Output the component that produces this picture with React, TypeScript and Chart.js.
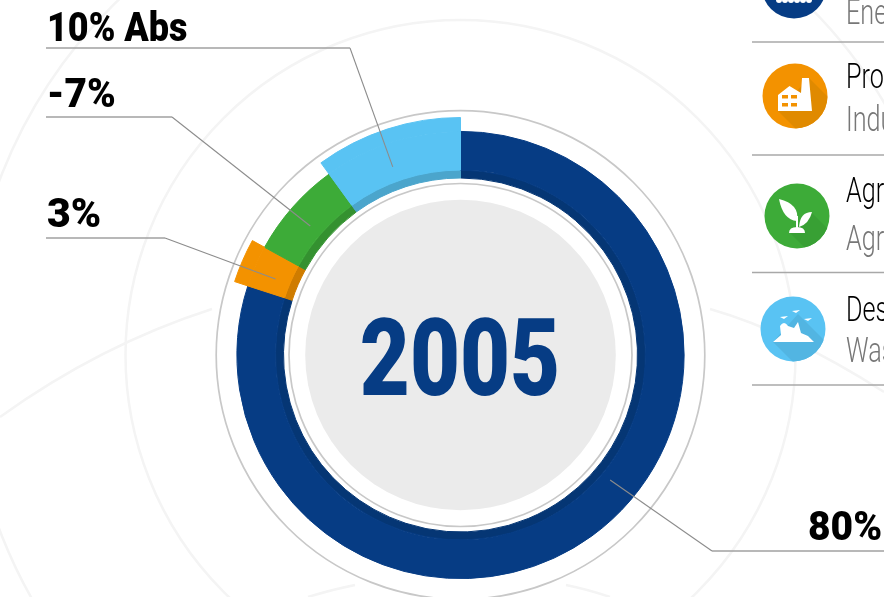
import React, { useEffect, useRef } from "react";
import { Chart, registerables } from "chart.js";

Chart.register(...registerables);

const categories = ["Ene", "Pro", "Agr", "Des"];
const shares = [80, 3, 7, 10];
const valueLabels = ["80%", "3%", "-7%", "10% Abs"];
const legendTitles = ["", "Pro", "Agr", "Des"];
const legendSubtitles = ["Ene", "Indu", "Agr", "Was"];
const centerLabel = "2005";

const mainColors = ["#063c84", "#f39200", "#3dab38", "#59c3f3"];
const darkColors = ["#053674", "#cf7c00", "#349130", "#4ba5cc"];
const tabColors = ["rgba(0,0,0,0)", "#f39200", "rgba(0,0,0,0)", "#59c3f3"];
const shadowColors = ["#05346f", "#e08a00", "#38a034", "#52b5e2"];

const FONT = "Roboto, sans-serif";
const FAINT = "#f4f4f4";

// [labelY, elbowX, endX, fractionAlongArc, anchorRadius]
const leaders: [number, number, number, number, number][] = [
  [551, 712, 884, 0.451, 195],
  [238, 165, 46, 0.4, 200],
  [117, 172, 46, 0.47, 198],
  [48, 350, 46, 0.45, 200],
];
const labelPos: [number, number][] = [
  [808, 540],
  [47, 227],
  [47, 107],
  [47, 41],
];
const labelScale = [0.95, 1.0, 0.945, 0.877];
const iconPos: [number, number][] = [
  [794, -14],
  [795, 96],
  [797, 216],
  [793, 329],
];
const separators = [42, 155, 272.5, 385];
const titleBase = [-18, 88, 202, 321];
const subBase = [24, 131, 250, 362];
const faintCurves: number[][] = [
  [212, 309, 100, 345, 0, 417],
  [710, 309, 790, 332, 884, 392],
  [308, 597, 330, 590, 355, 585],
  [566, 585, 590, 590, 610, 597],
];

function circle(ctx: CanvasRenderingContext2D, x: number, y: number, r: number) {
  ctx.beginPath();
  ctx.arc(x, y, r, 0, Math.PI * 2);
}

function narrowText(
  ctx: CanvasRenderingContext2D,
  text: string,
  x: number,
  y: number,
  font: string,
  scaleX: number,
  color: string,
  center = false
) {
  ctx.save();
  ctx.font = font;
  ctx.fillStyle = color;
  ctx.textBaseline = "alphabetic";
  ctx.textAlign = center ? "center" : "left";
  ctx.translate(x, y);
  ctx.scale(scaleX, 1);
  ctx.fillText(text, 0, 0);
  ctx.restore();
}

function poly(ctx: CanvasRenderingContext2D, pts: number[][]) {
  ctx.beginPath();
  pts.forEach(([a, b], k) => (k ? ctx.lineTo(a, b) : ctx.moveTo(a, b)));
  ctx.closePath();
  ctx.fill();
}

function drawIcon(ctx: CanvasRenderingContext2D, i: number) {
  const [x, y] = iconPos[i];
  ctx.save();
  circle(ctx, x, y, 32.5);
  ctx.fillStyle = mainColors[i];
  ctx.fill();
  ctx.clip();
  ctx.fillStyle = shadowColors[i];
  if (i === 1) {
    poly(ctx, [[x - 17, y + 15], [x + 14, y - 18], [x + 60, y + 28], [x + 30, y + 62]]);
  } else if (i === 2) {
    poly(ctx, [[x - 8, y + 16], [x + 14, y - 4], [x + 60, y + 42], [x + 36, y + 60]]);
  } else if (i === 3) {
    poly(ctx, [[x - 20, y + 13], [x + 5, y - 15], [x + 60, y + 40], [x + 27, y + 60]]);
  }
  ctx.fillStyle = "#fff";
  if (i === 0) {
    for (let k = 0; k < 6; k++) {
      circle(ctx, x - 15 + k * 6, 0, 3);
      ctx.fill();
    }
  } else if (i === 1) {
    poly(ctx, [
      [x - 17, y + 15], [x - 17, y - 1], [x - 5.5, y - 10], [x + 6, y - 3], [x + 7, y - 18],
      [x + 14, y - 18], [x + 17, y + 15],
    ]);
    ctx.fillStyle = mainColors[1];
    for (const [dx, dy] of [[-13, -1], [-4, -1], [-13, 7], [-4, 7]]) ctx.fillRect(x + dx, y + dy, 6, 3.5);
  } else if (i === 2) {
    ctx.beginPath();
    ctx.moveTo(x - 18, y - 17);
    ctx.quadraticCurveTo(x + 3, y - 12, x + 0, y + 5);
    ctx.quadraticCurveTo(x - 14, y + 4, x - 18, y - 17);
    ctx.fill();
    ctx.beginPath();
    ctx.moveTo(x + 15, y - 4);
    ctx.quadraticCurveTo(x + 3, y - 4, x + 2, y + 11);
    ctx.quadraticCurveTo(x + 12, y + 8, x + 15, y - 4);
    ctx.fill();
    ctx.beginPath();
    ctx.moveTo(x - 8, y + 17);
    ctx.quadraticCurveTo(x - 8, y + 11, x + 0, y + 11);
    ctx.quadraticCurveTo(x + 8, y + 11, x + 8, y + 17);
    ctx.closePath();
    ctx.fill();
    ctx.fillRect(x - 1, y, 2, 12);
  } else if (i === 3) {
    ctx.beginPath();
    ctx.moveTo(x - 20, y + 13);
    ctx.lineTo(x - 12, y + 6);
    ctx.lineTo(x - 13, y - 3);
    ctx.quadraticCurveTo(x - 9, y - 9, x - 5, y - 3);
    ctx.lineTo(x + 1, y - 1);
    ctx.lineTo(x + 5, y - 7);
    ctx.lineTo(x + 8, y + 4);
    ctx.lineTo(x + 15, y + 7);
    ctx.lineTo(x + 21, y + 13);
    ctx.closePath();
    ctx.fill();
    for (const [dx, dy] of [[-9, -12], [3, -18], [15, -10]]) {
      poly(ctx, [[x + dx - 4, y + dy], [x + dx + 4, y + dy - 1], [x + dx, y + dy + 2]]);
    }
  }
  ctx.restore();
}

const decorations = {
  id: "decorations",
  beforeDatasetsDraw(chart: any) {
    const ctx: CanvasRenderingContext2D = chart.ctx;
    const arc = chart.getDatasetMeta(0).data[0];
    const { x, y } = arc;
    ctx.save();
    ctx.strokeStyle = FAINT;
    ctx.lineWidth = 2.5;
    for (const r of [335, 493]) {
      circle(ctx, x, y, r);
      ctx.stroke();
    }
    for (const c of faintCurves) {
      ctx.beginPath();
      ctx.moveTo(c[0], c[1]);
      ctx.quadraticCurveTo(c[2], c[3], c[4], c[5]);
      ctx.stroke();
    }
    ctx.strokeStyle = "#c8c8c8";
    ctx.lineWidth = 1.7;
    circle(ctx, x, y, 244.3);
    ctx.stroke();
    circle(ctx, x, y, 171.5);
    ctx.stroke();
    ctx.fillStyle = "#ebebeb";
    circle(ctx, x, y, 155.3);
    ctx.fill();

    ctx.strokeStyle = "#a8a8a8";
    ctx.lineWidth = 1.5;
    for (const s of separators) {
      ctx.beginPath();
      ctx.moveTo(752, s);
      ctx.lineTo(884, s);
      ctx.stroke();
    }
    categories.forEach((_, i) => drawIcon(ctx, i));
    categories.forEach((_, i) => {
      const font = `300 35px ${FONT}`;
      if (legendTitles[i]) narrowText(ctx, legendTitles[i], 846, titleBase[i], font, 0.72, "#000");
      narrowText(ctx, legendSubtitles[i], 846, subBase[i], font, 0.72, "#777");
    });
    ctx.restore();
  },
  afterDatasetsDraw(chart: any) {
    const ctx: CanvasRenderingContext2D = chart.ctx;
    const elements = chart.getDatasetMeta(1).data;
    ctx.save();
    leaders.forEach(([ly, ex, endX, frac, r], i) => {
      const el = elements[i];
      const a = el.startAngle + frac * (el.endAngle - el.startAngle);
      const ax = el.x + r * Math.cos(a);
      const ay = el.y + r * Math.sin(a);
      ctx.strokeStyle = "#8c8c8c";
      ctx.lineWidth = 1.1;
      ctx.beginPath();
      ctx.moveTo(ax, ay);
      ctx.lineTo(ex, ly);
      ctx.stroke();
      ctx.strokeStyle = "#a0a0a0";
      ctx.lineWidth = 1.5;
      ctx.beginPath();
      ctx.moveTo(ex, ly);
      ctx.lineTo(endX, ly);
      ctx.stroke();
      const [tx, ty] = labelPos[i];
      narrowText(ctx, valueLabels[i], tx, ty, `900 41px ${FONT}`, labelScale[i], "#000");
    });
    const c = elements[0];
    narrowText(ctx, centerLabel, c.x - 0.5, 395, `900 108px ${FONT}`, 0.8, "#063c84", true);
    ctx.restore();
  },
};

export default function App() {
  const ref = useRef<HTMLCanvasElement>(null);
  useEffect(() => {
    const chart = new Chart(ref.current!, {
      type: "doughnut",
      data: {
        labels: categories,
        datasets: [
          { data: shares, backgroundColor: tabColors, borderColor: tabColors, borderWidth: 1, weight: 14 },
          { data: shares, backgroundColor: mainColors, borderColor: mainColors, borderWidth: 1, weight: 39 },
          { data: shares, backgroundColor: darkColors, borderColor: darkColors, borderWidth: 1, weight: 8 },
        ],
      },
      options: {
        responsive: false,
        animation: false,
        cutout: 177,
        layout: { padding: { left: 222.5, top: 117, right: 185.5, bottom: 4 } },
        plugins: { legend: { display: false }, tooltip: { enabled: false } },
      },
      plugins: [decorations],
    } as any);
    return () => chart.destroy();
  }, []);
  return <canvas ref={ref} width={884} height={597} style={{ position: "fixed", left: 0, top: 0, display: "block" }} />;
}
